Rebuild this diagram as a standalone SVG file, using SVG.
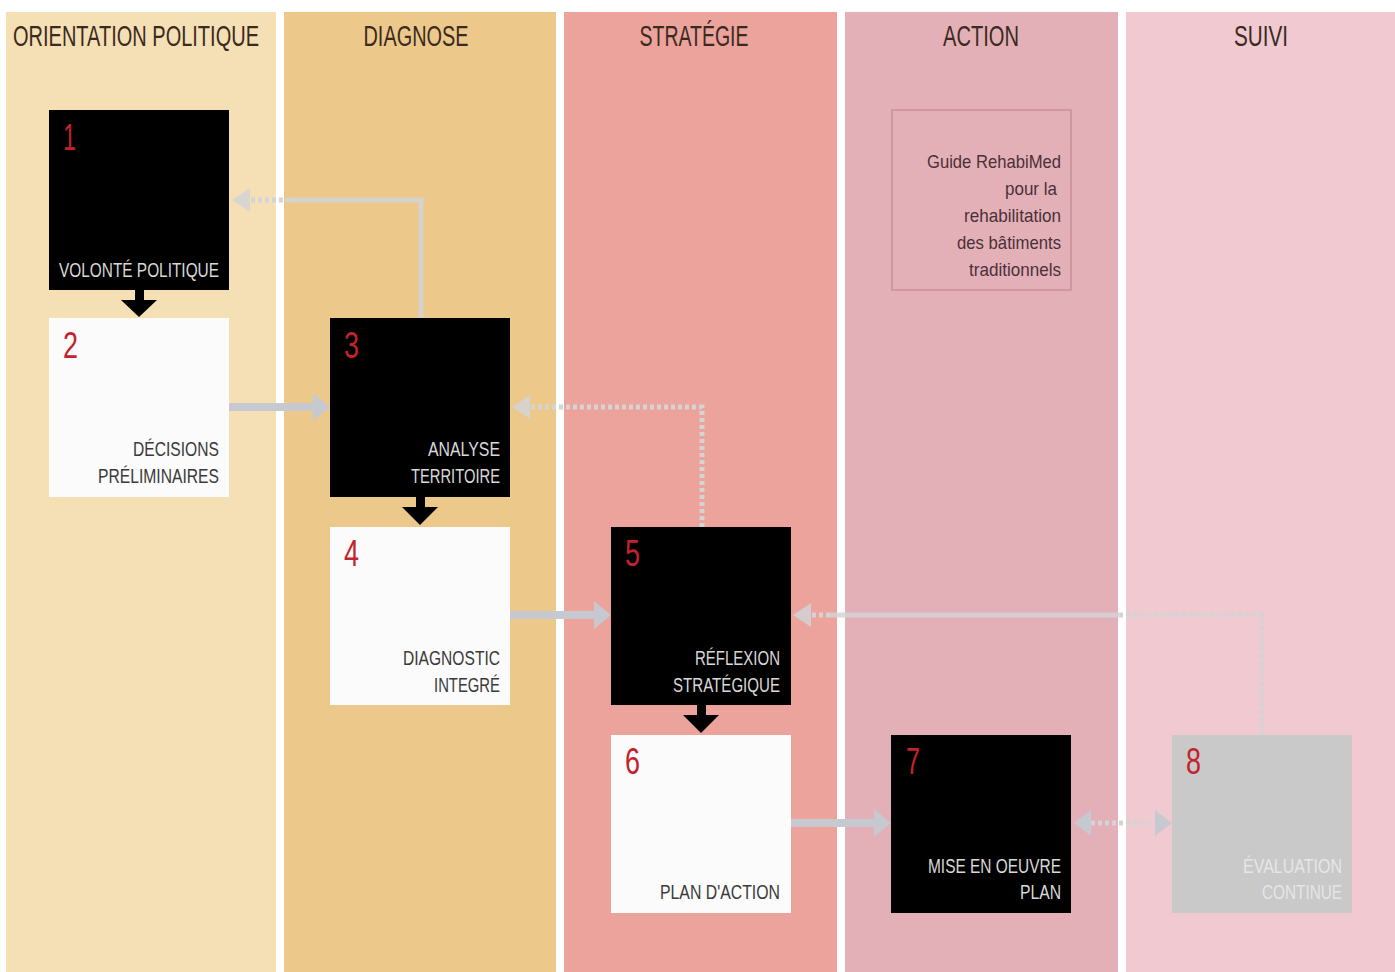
<svg xmlns="http://www.w3.org/2000/svg" width="1395" height="972" viewBox="0 0 1395 972">
<style>
.hdr{font-family:"Liberation Sans Narrow","Liberation Sans",sans-serif;font-size:29px;fill:#3a2a20;text-anchor:middle}
.num{font-family:"Liberation Sans Narrow","Liberation Sans",sans-serif;font-size:36px;fill:#c4222c}
.lbl{font-family:"Liberation Sans Narrow","Liberation Sans",sans-serif;font-size:20px;text-anchor:end}
.dk .lbl{fill:#d8d8d8}
.lt .lbl{fill:#3a3a3a}
.gr .lbl{fill:#e6e6e6}
.guide{font-family:"Liberation Sans Narrow","Liberation Sans",sans-serif;font-size:19px;fill:#4a3038;text-anchor:end}
.fw{stroke:#c6c9d0;stroke-width:8;fill:none}
.fb{stroke:#d4d4d6;stroke-width:5;fill:none;opacity:0.85}
.dot{stroke:#d4d4d6;stroke-width:5;fill:none;stroke-dasharray:4 3}
</style>
<rect x="0" y="0" width="1395" height="972" fill="#ffffff"/>
<g id="columns">
<rect x="6" y="12" width="270" height="960" fill="#f5dfb5"/>
<rect x="284" y="12" width="272" height="960" fill="#ecc98a"/>
<rect x="564" y="12" width="273" height="960" fill="#eba39b"/>
<rect x="845" y="12" width="273" height="960" fill="#e4b0b8"/>
<rect x="1126" y="12" width="269" height="960" fill="#f0c9d1"/>
<text class="hdr" x="136" y="46" textLength="246" lengthAdjust="spacingAndGlyphs">ORIENTATION POLITIQUE</text>
<text class="hdr" x="416" y="46" textLength="105" lengthAdjust="spacingAndGlyphs">DIAGNOSE</text>
<text class="hdr" x="694" y="46" textLength="109" lengthAdjust="spacingAndGlyphs">STRATÉGIE</text>
<text class="hdr" x="981" y="46" textLength="76" lengthAdjust="spacingAndGlyphs">ACTION</text>
<text class="hdr" x="1261" y="46" textLength="54" lengthAdjust="spacingAndGlyphs">SUIVI</text>
</g>
<g id="guide">
<rect x="892" y="110" width="179" height="180" fill="none" stroke="#c98f9a" stroke-width="1.5"/>
<text class="guide" x="1061" y="168" textLength="134" lengthAdjust="spacingAndGlyphs">Guide RehabiMed</text>
<text class="guide" x="1057" y="195" textLength="52" lengthAdjust="spacingAndGlyphs">pour la</text>
<text class="guide" x="1061" y="222" textLength="97" lengthAdjust="spacingAndGlyphs">rehabilitation</text>
<text class="guide" x="1061" y="249" textLength="104" lengthAdjust="spacingAndGlyphs">des bâtiments</text>
<text class="guide" x="1061" y="276" textLength="92" lengthAdjust="spacingAndGlyphs">traditionnels</text>
</g>
<g id="connectors">
<path class="fb" d="M421 318 V200 H290"/>
<path class="dot" d="M290 200 H250"/>
<polygon points="232,200 250,188 250,212" fill="#d4d4d6" opacity="0.85"/>
<path class="dot" d="M702 527 V407 H530"/>
<polygon points="512,407 530,395 530,419" fill="#d4d4d6" opacity="0.85"/>
<path class="dot" d="M1262 735 V615 H1120"/>
<path class="fb" d="M1120 615 H830"/>
<path class="dot" d="M830 615 H811"/>
<polygon points="793,615 811,603 811,627" fill="#d4d4d6" opacity="0.85"/>
<path class="fw" d="M229 407 H314"/>
<polygon points="330,407 313,393 313,421" fill="#c6c9d0"/>
<path class="fw" d="M510 615 H595"/>
<polygon points="611,615 594,601 594,629" fill="#c6c9d0"/>
<path class="fw" d="M791 823 H875"/>
<polygon points="891,823 874,809 874,837" fill="#c6c9d0"/>
<polygon points="1074,823 1091,810 1091,836" fill="#c6c9d0"/>
<path class="dot" d="M1091 823 H1155" stroke="#c6c9d0"/>
<polygon points="1172,823 1155,810 1155,836" fill="#c6c9d0"/>
<rect x="135" y="290" width="9" height="11" fill="#000"/>
<polygon points="121,300 157,300 139,317" fill="#000"/>
<rect x="416" y="497" width="9" height="11" fill="#000"/>
<polygon points="402,507 438,507 420,525" fill="#000"/>
<rect x="697" y="705" width="9" height="11" fill="#000"/>
<polygon points="683,715 719,715 701,733" fill="#000"/>
</g>
<g id="node1" class="dk">
<rect x="49" y="110" width="180" height="180" fill="#000"/>
<text class="num" x="63" y="150" textLength="13" lengthAdjust="spacingAndGlyphs">1</text>
<text class="lbl" x="219" y="277" textLength="160" lengthAdjust="spacingAndGlyphs">VOLONTÉ POLITIQUE</text>
</g>
<g id="node2" class="lt">
<rect x="49" y="318" width="180" height="179" fill="#fbfbfb"/>
<text class="num" x="63" y="358" textLength="15" lengthAdjust="spacingAndGlyphs">2</text>
<text class="lbl" x="219" y="456" textLength="86" lengthAdjust="spacingAndGlyphs">DÉCISIONS</text>
<text class="lbl" x="219" y="483" textLength="121" lengthAdjust="spacingAndGlyphs">PRÉLIMINAIRES</text>
</g>
<g id="node3" class="dk">
<rect x="330" y="318" width="180" height="179" fill="#000"/>
<text class="num" x="344" y="358" textLength="15" lengthAdjust="spacingAndGlyphs">3</text>
<text class="lbl" x="500" y="456" textLength="72" lengthAdjust="spacingAndGlyphs">ANALYSE</text>
<text class="lbl" x="500" y="483" textLength="89" lengthAdjust="spacingAndGlyphs">TERRITOIRE</text>
</g>
<g id="node4" class="lt">
<rect x="330" y="527" width="180" height="178" fill="#fbfbfb"/>
<text class="num" x="344" y="566" textLength="15" lengthAdjust="spacingAndGlyphs">4</text>
<text class="lbl" x="500" y="665" textLength="97" lengthAdjust="spacingAndGlyphs">DIAGNOSTIC</text>
<text class="lbl" x="500" y="692" textLength="66" lengthAdjust="spacingAndGlyphs">INTEGRÉ</text>
</g>
<g id="node5" class="dk">
<rect x="611" y="527" width="180" height="178" fill="#000"/>
<text class="num" x="625" y="566" textLength="15" lengthAdjust="spacingAndGlyphs">5</text>
<text class="lbl" x="780" y="665" textLength="85" lengthAdjust="spacingAndGlyphs">RÉFLEXION</text>
<text class="lbl" x="780" y="692" textLength="107" lengthAdjust="spacingAndGlyphs">STRATÉGIQUE</text>
</g>
<g id="node6" class="lt">
<rect x="611" y="735" width="180" height="178" fill="#fbfbfb"/>
<text class="num" x="625" y="774" textLength="15" lengthAdjust="spacingAndGlyphs">6</text>
<text class="lbl" x="780" y="899" textLength="120" lengthAdjust="spacingAndGlyphs">PLAN D'ACTION</text>
</g>
<g id="node7" class="dk">
<rect x="891" y="735" width="180" height="178" fill="#000"/>
<text class="num" x="906" y="774" textLength="14" lengthAdjust="spacingAndGlyphs">7</text>
<text class="lbl" x="1061" y="873" textLength="133" lengthAdjust="spacingAndGlyphs">MISE EN OEUVRE</text>
<text class="lbl" x="1061" y="899" textLength="41" lengthAdjust="spacingAndGlyphs">PLAN</text>
</g>
<g id="node8" class="gr">
<rect x="1172" y="735" width="180" height="178" fill="#c9c9c9"/>
<text class="num" x="1186" y="774" textLength="15" lengthAdjust="spacingAndGlyphs">8</text>
<text class="lbl" x="1342" y="873" textLength="99" lengthAdjust="spacingAndGlyphs">ÉVALUATION</text>
<text class="lbl" x="1342" y="899" textLength="80" lengthAdjust="spacingAndGlyphs">CONTINUE</text>
</g>
</svg>
